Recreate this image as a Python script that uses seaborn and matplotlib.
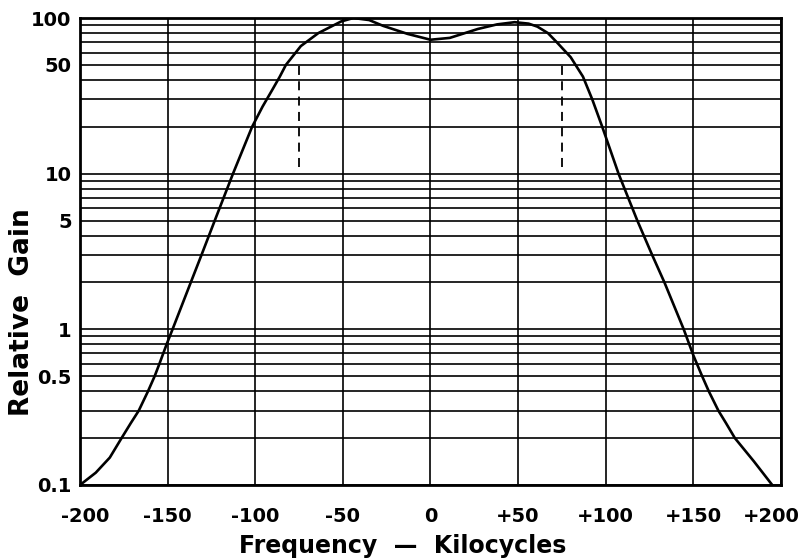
import numpy as np
import pandas as pd
import seaborn as sns
import matplotlib.pyplot as plt
import matplotlib.transforms as mtrans

# Response curve (frequency offset in kc, relative gain)
freq = [-200, -191, -183, -176.3, -171, -166.5, -161.2, -157.4, -154.7,
        -150.6, -147.2, -136.8, -130.7, -123.1, -112.7, -101.8, -95.8, -90,
        -86, -82.5, -74, -64, -51, -44, -35, -27, -13, 0, 11, 27, 38, 48,
        56, 61, 67, 72, 80, 87, 92.3, 98, 107.3, 118, 126.5, 133.5, 144.5,
        150, 155, 158.8, 164.3, 168.6, 173.7, 184.5, 195]
gain = [0.1, 0.12, 0.15, 0.2, 0.25, 0.3, 0.4, 0.5, 0.6,
        0.8, 1, 2, 3, 5, 10, 20, 27, 35,
        42, 50, 66, 80, 95, 100, 97, 89, 79, 72.5, 74.5, 85, 91, 94,
        92, 88, 80, 70, 56, 42, 30, 20, 10, 5, 3, 2, 1,
        0.68, 0.5, 0.4, 0.3, 0.25, 0.2, 0.142, 0.1]

# dashed bandwidth markers
marker_freq = [-75, 75]
marker_top = [50, 50]
marker_bottom = [11, 11]

x_ticks = [-200, -150, -100, -50, 0, 50, 100, 150, 200]
x_labels = ["-200", "-150", "-100", "-50", "0", "+50", "+100", "+150", "+200"]
y_ticks = [0.1, 0.5, 1, 5, 10, 50, 100]
y_labels = ["0.1", "0.5", "1", "5", "10", "50", "100"]

df = pd.DataFrame({"freq": freq, "gain": gain})

sns.set_style("white")
plt.rcParams["font.family"] = ["DejaVu Sans"]
plt.rcParams["font.weight"] = "bold"
plt.rcParams["text.color"] = "black"
plt.rcParams["xtick.color"] = "black"
plt.rcParams["ytick.color"] = "black"
plt.rcParams["axes.labelcolor"] = "black"

fig = plt.figure(figsize=(8.03, 5.59), dpi=100)
ax = fig.add_axes([80 / 803, 1 - 485 / 559, 701 / 803, 467 / 559])

ax.set_yscale("log")
ax.set_xlim(-200, 200)
ax.set_ylim(0.1, 100)

# graph paper grid: every 50 kc, and 1..9 per decade
minor = [m * 10.0 ** e for e in (-1, 0, 1) for m in range(1, 10)]
ax.set_yticks(minor, minor=True)
ax.set_yticks(y_ticks)
ax.set_yticklabels(y_labels)
ax.yaxis.set_minor_formatter(plt.NullFormatter())
ax.set_xticks(x_ticks)
ax.set_xticklabels(x_labels)
ax.grid(True, which="both", axis="y", color="black", lw=1.2)
ax.grid(True, which="major", axis="x", color="black", lw=1.2)
ax.tick_params(which="both", length=0)
ax.tick_params(axis="y", labelsize=14, pad=6)
ax.tick_params(axis="x", labelsize=14, pad=16)

# nudge the end labels inward like the original lettering
xl = ax.get_xticklabels()
xl[0].set_transform(xl[0].get_transform() + mtrans.ScaledTranslation(5 / 100, 0, fig.dpi_scale_trans))
xl[-1].set_transform(xl[-1].get_transform() + mtrans.ScaledTranslation(-10 / 100, 0, fig.dpi_scale_trans))

for s in ax.spines.values():
    s.set_color("black")
    s.set_linewidth(2)

sns.lineplot(data=df, x="freq", y="gain", color="black", lw=1.9, ax=ax,
             sort=False, zorder=5)
ax.vlines(marker_freq, marker_bottom, marker_top, colors="black",
          linestyles=(0, (5, 3.5)), lw=1.3, zorder=4)

ax.set_xlabel("Frequency  —  Kilocycles", fontsize=17, fontweight="bold")
ax.set_ylabel("Relative  Gain", fontsize=19, fontweight="bold")
ax.xaxis.set_label_coords(0.46, -0.105)
ax.yaxis.set_label_coords(-0.064, 0.37)

fig.savefig("out.png", dpi=100)
